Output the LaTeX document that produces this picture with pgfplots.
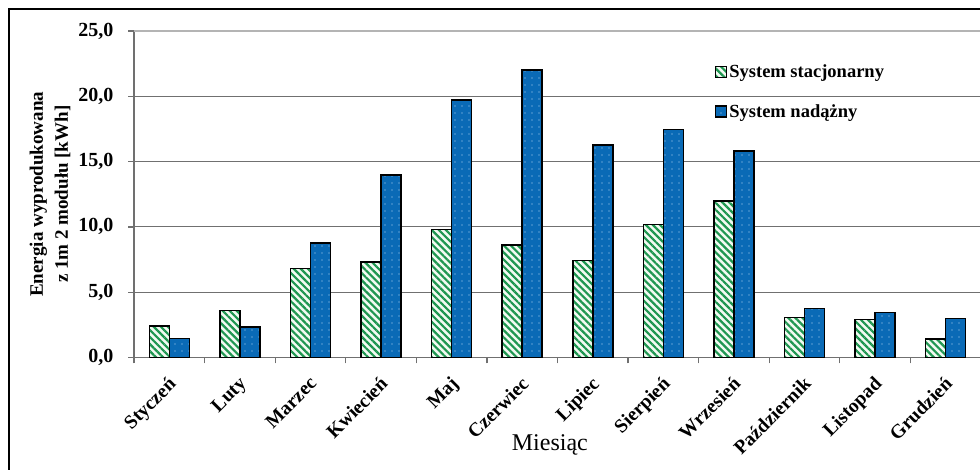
\documentclass[border=0pt]{standalone}
\usepackage{fontspec}
\setmainfont{Liberation Serif}
\usepackage{pgfplots}
\pgfplotsset{compat=1.18}
\usetikzlibrary{patterns.meta}
\definecolor{sgreen}{HTML}{1E9650}
\definecolor{sgreenbg}{HTML}{F2FAF2}
\definecolor{sblue}{HTML}{0A6AB6}
\definecolor{sdot}{HTML}{B8DAF5}
\definecolor{agray}{HTML}{707070}
\definecolor{lgray}{HTML}{B4B4B4}

\begin{document}
\begin{tikzpicture}[x=1pt,y=1pt]
\useasboundingbox (0,0) rectangle (980,470);
\fill[white] (0,0) rectangle (980,470);
\draw[line width=1.2pt] (9,-10) rectangle (1000,461);
\begin{axis}[
  at={(134pt,112.5pt)}, anchor=south west,
  scale only axis, width=847pt, height=326.5pt,
  xmin=-0.5, xmax=11.5, ymin=0, ymax=25,
  axis lines*=left,
  axis line style={agray, line width=1.3pt, -},
  ybar=0pt, bar width=20pt,
  xtick={0,...,11},
  xticklabels={Styczeń,Luty,Marzec,Kwiecień,Maj,Czerwiec,Lipiec,Sierpień,Wrzesień,Październik,Listopad,Grudzień},
  minor xtick={-0.5,0.5,...,11.5},
  major x tick style={draw=none},
  minor x tick style={draw=agray, line width=1.3pt},
  minor tick length=6pt,
  major tick length=6pt,
  tick align=outside,
  ytick={0,5,...,20},
  extra y ticks={25},
  extra y tick style={grid style={lgray, line width=1.2pt}},
  ytick style={draw=agray, line width=1.3pt},
  ymajorgrids,
  grid style={agray, line width=1.2pt},
  /pgf/number format/assume math mode=true,
  yticklabel style={font=\bfseries\fontsize{20}{22}\selectfont, xshift=-11pt, /pgf/number format/.cd, fixed, fixed zerofill, precision=1, use comma},
  xticklabel style={xshift=-2pt, yshift=-10.5pt, rotate=45, anchor=north east, font=\bfseries\fontsize{19.5}{22}\selectfont, inner sep=1pt},
  xlabel={Miesiąc},
  xlabel style={font=\fontsize{24}{28}\selectfont, at={(axis description cs:0.491,-0.2855)}, anchor=base},
  ylabel={Energia wyprodukowana\\z 1m 2 modułu [kWh]},
  ylabel style={align=center, font=\bfseries\fontsize{19}{25}\selectfont, at={(axis description cs:-0.099,0.5)}, anchor=center},
  legend style={at={(axis description cs:0.682,0.909)}, anchor=north west, draw=none, fill=none, font=\bfseries\fontsize{18.5}{21}\selectfont, row sep=21pt},
  legend cell align=left,
  legend image code/.code={\draw[#1] (0pt,-5.5pt) rectangle (11pt,5.5pt);},
]
\addplot[draw=black, line width=1.5pt, fill=sgreenbg, postaction={pattern={Lines[angle=-45,distance=5pt,line width=2.2pt]}, pattern color=sgreen}]
 coordinates {(0,2.4) (1,3.58) (2,6.8) (3,7.33) (4,9.81) (5,8.6) (6,7.44) (7,10.19) (8,12.0) (9,3.06) (10,2.9) (11,1.42)};
\addplot[draw=black, line width=1.5pt, fill=sblue, postaction={pattern={Dots[distance=7pt,radius=0.55pt]}, pattern color=sdot}]
 coordinates {(0,1.45) (1,2.33) (2,8.78) (3,13.99) (4,19.7) (5,22.0) (6,16.26) (7,17.45) (8,15.8) (9,3.75) (10,3.46) (11,2.99)};
\legend{System stacjonarny, System nadążny}
\end{axis}
\end{tikzpicture}
\end{document}
